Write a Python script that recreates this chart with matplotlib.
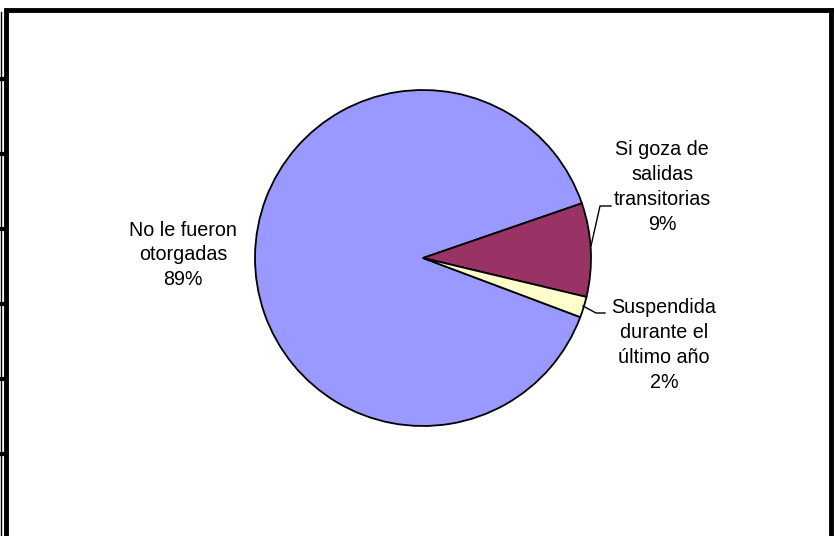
import matplotlib
matplotlib.use("Agg")
import matplotlib.pyplot as plt

# Data
categories = ["No le fueron\notorgadas", "Si goza de\nsalidas\ntransitorias", "Suspendida\ndurante el\núltimo año"]
values = [89, 9, 2]
colors = ["#9999FF", "#993366", "#FFFFCC"]

W, H = 834, 536
fig = plt.figure(figsize=(W / 100, H / 100), dpi=100)
fig.patch.set_facecolor("white")
ax = fig.add_axes([0, 0, 1, 1])
ax.set_xlim(0, W)
ax.set_ylim(0, H)
ax.set_aspect("equal")
ax.axis("off")

def Y(y):
    return H - y

cx, cy, r = 423, 258, 168
ax.pie(values, colors=colors, startangle=-20.6, counterclock=False,
       center=(cx, Y(cy)), radius=r, frame=True,
       wedgeprops=dict(edgecolor="black", linewidth=1.3))
ax.set_xlim(0, W)
ax.set_ylim(0, H)
ax.axis("off")

font = dict(family="Liberation Sans", fontsize=14.2, color="black",
            ha="center", va="center", linespacing=1.38)
label_pos = [(183, 255), (662, 187), (664, 345)]
for cat, v, (x, y) in zip(categories, values, label_pos):
    ax.text(x, Y(y), f"{cat}\n{v}%", **font)

# leader lines
ax.plot([591, 600, 611], [Y(246), Y(206), Y(206)], color="black", lw=1.0)
ax.plot([583, 596, 605], [Y(306), Y(313), Y(313)], color="black", lw=1.0)

# frame
ax.plot([4, 834], [Y(10), Y(10)], color="black", lw=3.5, solid_capstyle="butt")
ax.plot([6, 6], [Y(8), Y(536)], color="black", lw=3.5, solid_capstyle="butt")
ax.plot([831, 831], [Y(8), Y(536)], color="black", lw=3.5, solid_capstyle="butt")
ax.plot([0.5, 0.5], [Y(12), Y(536)], color="black", lw=1.0)
for ty in [79, 154, 229, 304, 379, 454]:
    ax.plot([0, 5], [Y(ty), Y(ty)], color="black", lw=3.0, solid_capstyle="butt")

fig.savefig("out.png", dpi=100)
